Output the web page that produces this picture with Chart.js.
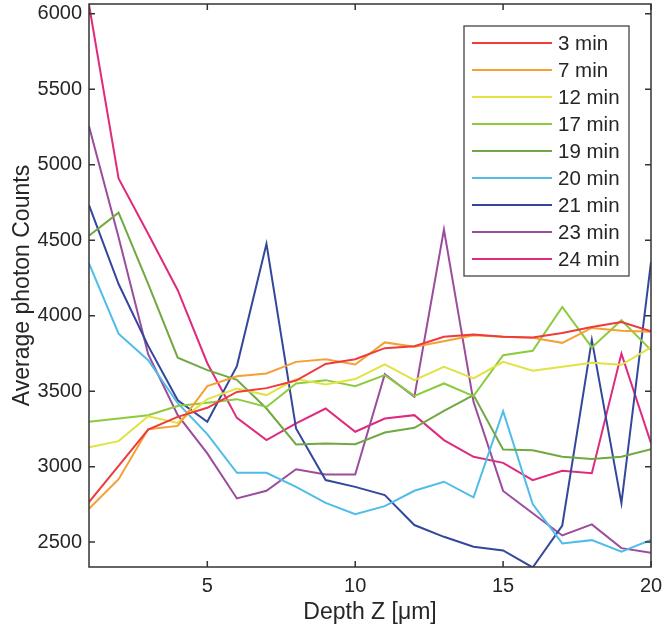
<!DOCTYPE html>
<html>
<head>
<meta charset="utf-8">
<script src="https://cdn.jsdelivr.net/npm/chart.js@4.4.1/dist/chart.umd.min.js"></script>
<style>
html,body{margin:0;padding:0;background:#fff;}
#wrap{width:666px;height:635px;position:relative;}
</style>
</head>
<body>
<div id="wrap"><canvas id="c"></canvas></div>
<script>
const depth = [1,2,3,4,5,6,7,8,9,10,11,12,13,14,15,16,17,18,19,20];
const min3  = [2765,3005,3245,3330,3390,3495,3520,3570,3680,3712,3785,3798,3860,3875,3860,3856,3886,3925,3958,3897];
const min7  = [2721,2917,3248,3270,3533,3599,3617,3694,3712,3677,3823,3794,3831,3871,3860,3853,3820,3919,3900,3893];
const min12 = [3129,3169,3334,3290,3447,3518,3474,3580,3544,3580,3677,3573,3661,3584,3694,3635,3661,3688,3675,3790];
const min17 = [3297,3319,3341,3401,3423,3447,3395,3551,3573,3533,3606,3469,3551,3467,3738,3767,4058,3790,3970,3772];
const min19 = [4530,4683,4210,3722,3639,3575,3385,3147,3154,3149,3226,3257,3370,3474,3114,3109,3065,3050,3065,3116];
const min20 = [4346,3881,3705,3420,3215,2959,2959,2866,2760,2685,2738,2840,2900,2796,3368,2752,2491,2513,2436,2515];
const min21 = [4732,4210,3800,3440,3297,3666,4476,3253,2911,2866,2811,2613,2535,2469,2445,2332,2610,3840,2758,4355];
const min23 = [5255,4520,3745,3341,3088,2789,2840,2983,2948,2948,3613,3463,4571,3429,2839,2691,2544,2617,2460,2429];
const min24 = [6060,4909,4543,4169,3685,3323,3176,3286,3385,3231,3319,3341,3176,3065,3025,2910,2972,2956,3749,3156];

const seriesLabels = ['3 min','7 min','12 min','17 min','19 min','20 min','21 min','23 min','24 min'];
const seriesValues = [min3,min7,min12,min17,min19,min20,min21,min23,min24];
const seriesColors = ['#EE3B3B','#F5A032','#E0E342','#8CCB3E','#71A843','#4FBDE8','#33489C','#9A4C9D','#DF2A7E'];

const xTicks = [5,10,15,20];
const yTicks = [2500,3000,3500,4000,4500,5000,5500,6000];
const xRange = [1,20];
const yRange = [2335,6065];

const FONT = "'Liberation Sans', Arial, Helvetica, sans-serif";
const AXIS_COLOR = '#333333';
const TEXT_COLOR = '#262626';

const datasets = seriesLabels.map((lab,i)=>({
  label: lab,
  data: depth.map((d,j)=>({x:d,y:seriesValues[i][j]})),
  borderColor: seriesColors[i],
  backgroundColor: seriesColors[i],
  borderWidth: 2,
  pointRadius: 0,
  tension: 0,
  fill: false
}));

const framePlugin = {
  id:'frame',
  afterDatasetsDraw(chart){
    const ctx = chart.ctx, a = chart.chartArea;
    const xs = chart.scales.x, ys = chart.scales.y;
    ctx.save();
    ctx.strokeStyle = AXIS_COLOR;
    ctx.lineWidth = 1.5;
    ctx.strokeRect(a.left, a.top, a.right-a.left, a.bottom-a.top);
    const tl = 6;
    ctx.beginPath();
    xTicks.forEach(v=>{
      const px = xs.getPixelForValue(v);
      ctx.moveTo(px,a.bottom); ctx.lineTo(px,a.bottom-tl);
      ctx.moveTo(px,a.top); ctx.lineTo(px,a.top+tl);
    });
    yTicks.forEach(v=>{
      const py = ys.getPixelForValue(v);
      ctx.moveTo(a.left,py); ctx.lineTo(a.left+tl,py);
      ctx.moveTo(a.right,py); ctx.lineTo(a.right-tl,py);
    });
    ctx.stroke();
    ctx.restore();
  },
  afterDraw(chart){
    const ctx = chart.ctx;
    const bx = 464, by = 26, bw = 165, bh = 250;
    ctx.save();
    ctx.fillStyle = '#ffffff';
    ctx.fillRect(bx,by,bw,bh);
    ctx.strokeStyle = '#444444';
    ctx.lineWidth = 1.3;
    ctx.strokeRect(bx,by,bw,bh);
    ctx.font = '20.5px ' + FONT;
    ctx.textBaseline = 'middle';
    ctx.textAlign = 'left';
    chart.data.datasets.forEach((ds,i)=>{
      const cy = 43 + i*27;
      ctx.strokeStyle = ds.borderColor;
      ctx.lineWidth = 2;
      ctx.beginPath();
      ctx.moveTo(472,cy); ctx.lineTo(552,cy);
      ctx.stroke();
      ctx.fillStyle = TEXT_COLOR;
      ctx.fillText(ds.label, 558, cy+1);
    });
    ctx.restore();
  }
};

new Chart(document.getElementById('c'), {
  type:'line',
  data:{datasets},
  plugins:[framePlugin],
  options:{
    responsive:true,
    maintainAspectRatio:false,
    animation:false,
    layout:{padding:{top:4,right:15,left:0,bottom:0}},
    plugins:{legend:{display:false},tooltip:{enabled:false}},
    scales:{
      x:{
        type:'linear',
        min:xRange[0], max:xRange[1],
        afterBuildTicks:s=>{s.ticks = xTicks.map(v=>({value:v}));},
        afterFit:s=>{s.height = 68; s.paddingLeft = 0; s.paddingRight = 0;},
        grid:{display:false, drawTicks:false},
        border:{display:false},
        ticks:{font:{family:FONT,size:20},color:TEXT_COLOR,padding:7,maxRotation:0,autoSkip:false},
        title:{display:true,text:'Depth Z [μm]',font:{family:FONT,size:23},color:TEXT_COLOR,padding:{top:0,bottom:9}}
      },
      y:{
        type:'linear',
        min:yRange[0], max:yRange[1],
        afterBuildTicks:s=>{s.ticks = yTicks.map(v=>({value:v}));},
        afterFit:s=>{s.width = 89; s.paddingTop = 0; s.paddingBottom = 0;},
        grid:{display:false, drawTicks:false},
        border:{display:false},
        ticks:{font:{family:FONT,size:20},color:TEXT_COLOR,padding:7,autoSkip:false,callback:v=>String(v)},
        title:{display:true,text:'Average photon Counts',font:{family:FONT,size:23},color:TEXT_COLOR,padding:{top:9,bottom:0}}
      }
    }
  }
});
</script>
</body>
</html>
